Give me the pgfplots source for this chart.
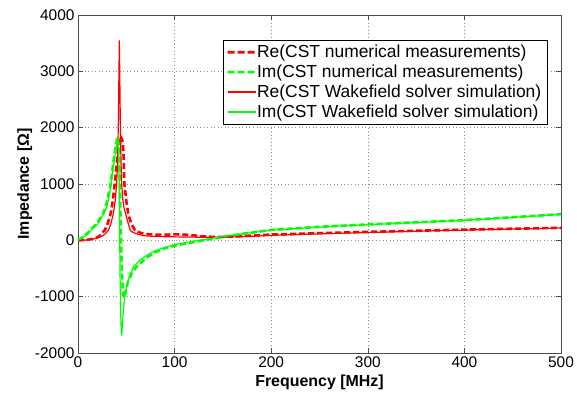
\documentclass[border=0pt]{standalone}
\usepackage{pgfplots}
\pgfplotsset{compat=1.18}
\usepackage{pgfplotstable}
\usepackage{fontspec}
\setmainfont{Liberation Sans}

\pgfplotstableread{
f z
0 0
5 4
10 10
15 25
21 59
24 110
27.6 178
30 260
32 370
33.8 474
36 700
38 1000
40 1350
41.5 1600
42.5 1830
44 1840
45.5 1800
46.5 1700
47.2 1500
48 1000
50 700
52 474
55 300
59 178
65 130
70 112
80 102
90 100
100 106
110 102
120 88
130 70
140 60
150 62
170 75
200 102
250 128
300 150
350 170
400 190
450 206
500 222
}\remeas

\pgfplotstableread{
f z
0 0
5 60
10 130
15.9 236
20 310
26.2 474
30 680
33.8 1000
37.3 1480
40.7 1835
42 1700
43 1200
44 450
45 -300
46 -750
47 -980
48 -1020
49 -940
50 -850
52 -720
55.6 -590
60 -480
70 -320
80 -210
90 -140
100 -95
120 -30
140 30
160 90
200 185
250 240
300 282
350 320
400 358
450 410
500 465
}\immeas

\pgfplotstableread{
f z
0 0
5 2
10 8
15 20
20 40
25 75
28 110
31.4 178
34 290
36.6 474
38.5 700
40 1000
41 1400
41.8 2100
42.4 3000
42.8 3550
43.2 3000
43.8 2100
44.5 1400
45.2 1000
46.5 700
48 550
50.4 400
52 300
54 178
57 140
60 120
65 95
70 80
80 68
100 62
120 57
140 52
170 65
200 88
250 115
300 140
350 162
400 182
450 200
500 218
}\resim

\pgfplotstableread{
f z
0 0
5 45
10 110
15 200
20 280
26 450
30 600
34 950
37 1350
40 1700
41.3 1800
42 1650
42.6 1100
43.1 200
43.6 -700
44.2 -1300
44.8 -1620
45.2 -1690
45.8 -1550
46.5 -1350
47.5 -1150
48.5 -1000
50 -850
53.8 -600
58 -460
64 -350
70 -280
78 -200
87 -140
100 -75
120 -15
140 40
160 95
200 180
250 235
300 278
350 316
400 355
450 407
500 460
}\imsim

\begin{document}
\begin{tikzpicture}
\begin{axis}[
  scale only axis,
  width=483bp, height=338bp,
  xmin=0, xmax=500, ymin=-2000, ymax=4000,
  xtick={0,100,...,500},
  ytick={-2000,-1000,...,4000},
  scaled ticks=false,
  /pgf/number format/assume math mode=true,
  /pgf/number format/1000 sep={},
  tick label style={font=\fontsize{15.5}{18}\selectfont},
  label style={font=\fontsize{16}{19}\selectfont\bfseries},
  xlabel={Frequency [MHz]},
  ylabel={Impedance [Ω]},
  xlabel style={yshift=-1bp},
  ylabel style={yshift=-4bp},
  tick align=inside,
  major tick length=5bp,
  axis line style={black!70},
  every tick/.style={black!70},
  grid=major,
  major grid style={black!45, dash pattern=on 1bp off 2.5bp, line width=0.6bp},
  legend style={
    at={(0.971,0.926)}, anchor=north east,
    font=\fontsize{17.5}{20}\selectfont,
    fill=white,
    inner xsep=4bp, inner ysep=3bp,
    row sep=1.8bp,
    nodes={inner xsep=1.5bp},
  },
  legend cell align=left,
]
\addplot[draw=red, line width=2.6bp, dash pattern=on 6bp off 3bp,
  legend image code/.code={\fill[red, draw=none] (0bp,-1.3bp) rectangle (7bp,1.3bp) (10bp,-1.3bp) rectangle (17bp,1.3bp) (20bp,-1.3bp) rectangle (27bp,1.3bp);}] table[x=f,y=z] {\remeas};
\addlegendentry{Re(CST numerical measurements)}
\addplot[draw=green, line width=2.6bp, dash pattern=on 6bp off 3bp,
  legend image code/.code={\fill[green, draw=none] (0bp,-1.3bp) rectangle (7bp,1.3bp) (10bp,-1.3bp) rectangle (17bp,1.3bp) (20bp,-1.3bp) rectangle (27bp,1.3bp);}] table[x=f,y=z] {\immeas};
\addlegendentry{Im(CST numerical measurements)}
\addplot[draw=red, line width=1.2bp, solid,
  legend image code/.code={\fill[red, draw=none] (0bp,-0.6bp) rectangle (28bp,0.6bp);}] table[x=f,y=z] {\resim};
\addlegendentry{Re(CST Wakefield solver simulation)}
\addplot[draw=green, line width=1.2bp, solid,
  legend image code/.code={\fill[green, draw=none] (0bp,-0.6bp) rectangle (28bp,0.6bp);}] table[x=f,y=z] {\imsim};
\addlegendentry{Im(CST Wakefield solver simulation)}
\coordinate (sw) at (rel axis cs:0,0);
\end{axis}
\pgfresetboundingbox
\path (sw) ++(-78bp,-43bp) rectangle ++(577bp,396bp);
\end{tikzpicture}
\end{document}
